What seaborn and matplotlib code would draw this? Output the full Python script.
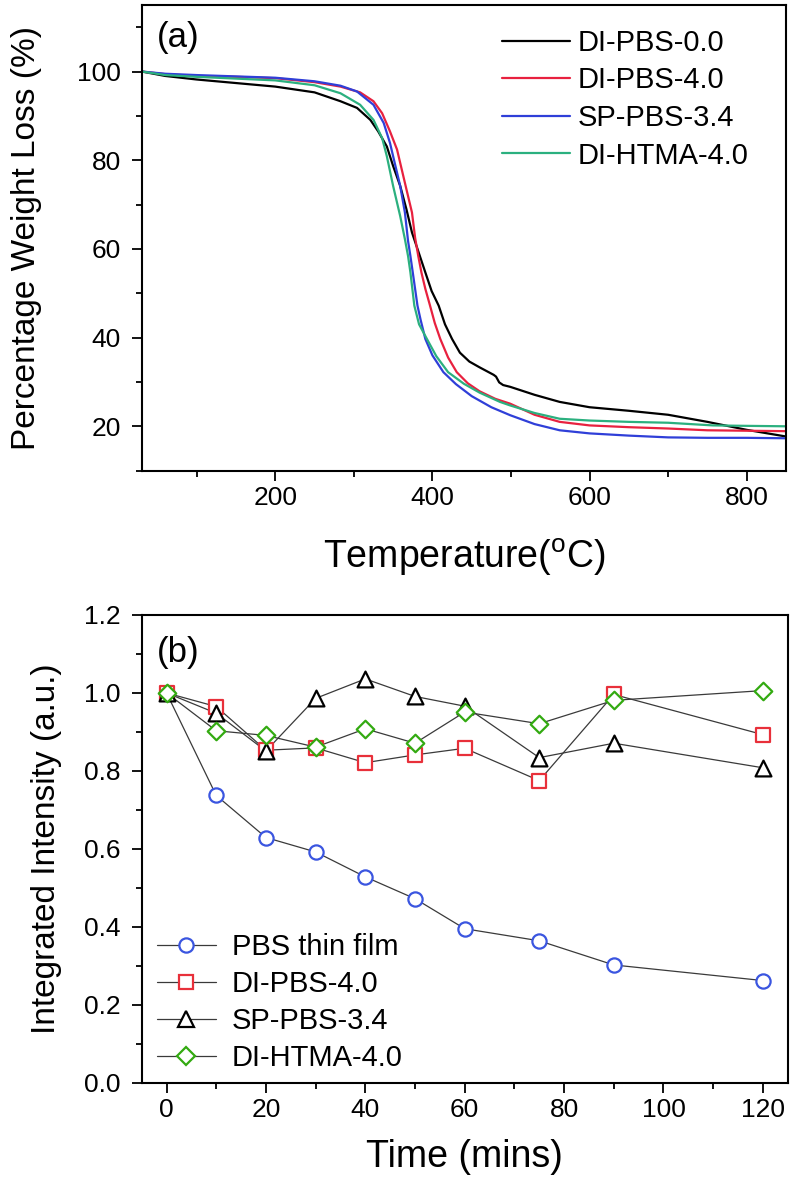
import numpy as np
import pandas as pd
import matplotlib
matplotlib.use('Agg')
import matplotlib.pyplot as plt
from matplotlib.lines import Line2D
from matplotlib.ticker import MultipleLocator, FormatStrFormatter
import seaborn as sns

# ---- (a) TGA curves ----
t_black = [30, 60, 100, 150, 200, 250, 283, 304, 321, 331, 342, 350, 359, 367, 374, 381, 391, 399, 408,
           416, 425, 435, 447, 460, 478, 481, 485, 490, 499, 530, 562, 600, 650, 700, 750, 800, 850]
w_black = [100, 99.0, 98.2, 97.4, 96.6, 95.3, 93.3, 91.8, 89.1, 86.5, 83.1, 78.7, 74.2, 68.9, 63.7, 60.0, 54.7, 50.5, 47.2,
           43.0, 39.7, 36.6, 34.6, 33.3, 31.6, 31.2, 29.9, 29.3, 28.9, 27.1, 25.5, 24.3, 23.5, 22.6, 21.0, 19.2, 17.7]

t_red = [30, 60, 100, 150, 200, 250, 283, 308, 325, 336, 346, 355, 361, 367, 374, 378, 382, 386, 391, 397,
         403, 410, 420, 431, 445, 460, 480, 499, 530, 562, 600, 650, 700, 750, 800, 850]
w_red = [100, 99.4, 99.0, 98.8, 98.5, 97.6, 96.6, 95.3, 93.3, 90.6, 86.5, 82.4, 77.9, 73.4, 68.2, 62.5, 58.4, 54.7, 51.0, 47.2,
         43.3, 39.7, 35.5, 32.2, 29.7, 27.9, 26.2, 25.1, 22.6, 21.0, 20.2, 19.8, 19.5, 19.1, 19.0, 18.9]

t_blue = [30, 60, 100, 150, 200, 250, 283, 304, 325, 338, 346, 352, 359, 365, 369, 372, 375, 381, 385, 391,
          400, 414, 430, 450, 475, 499, 530, 562, 600, 650, 700, 750, 800, 850]
w_blue = [100, 99.5, 99.2, 98.9, 98.6, 97.8, 96.8, 95.5, 92.5, 88.4, 83.9, 79.4, 74.2, 68.2, 61.8, 58.4, 54.7, 47.2, 44.0, 39.7,
          36.0, 32.2, 29.5, 26.8, 24.3, 22.5, 20.5, 19.1, 18.4, 17.9, 17.5, 17.4, 17.4, 17.3]

t_green = [30, 60, 100, 150, 200, 250, 283, 308, 325, 336, 342, 350, 359, 365, 369, 372, 377, 383, 393,
           405, 420, 440, 460, 486, 499, 530, 562, 600, 650, 700, 757, 800, 850]
w_green = [100, 99.2, 98.8, 98.4, 98.0, 96.9, 95.1, 92.5, 89.1, 85.0, 80.9, 74.2, 67.4, 62.2, 58.4, 54.7, 47.2, 43.0, 39.7,
           35.8, 32.2, 29.6, 27.6, 25.5, 24.7, 23.0, 21.7, 21.3, 21.0, 20.8, 20.2, 20.1, 20.0]

tga_names = ['DI-PBS-0.0', 'DI-PBS-4.0', 'SP-PBS-3.4', 'DI-HTMA-4.0']
tga_colors = ['#000000', '#e8213f', '#2f3fd8', '#2bb07f']

# ---- (b) integrated intensity vs time ----
time_min = [0, 10, 20, 30, 40, 50, 60, 75, 90, 120]
pbs_film = [1.0, 0.737, 0.629, 0.592, 0.528, 0.472, 0.395, 0.364, 0.302, 0.262]
di_pbs = [1.0, 0.965, 0.853, 0.859, 0.821, 0.841, 0.858, 0.775, 0.996, 0.893]
sp_pbs = [1.0, 0.948, 0.851, 0.986, 1.036, 0.991, 0.966, 0.834, 0.871, 0.808]
di_htma = [1.0, 0.903, 0.891, 0.861, 0.908, 0.871, 0.951, 0.921, 0.981, 1.006]

int_names = ['PBS thin film', 'DI-PBS-4.0', 'SP-PBS-3.4', 'DI-HTMA-4.0']
int_colors = ['#3a55e0', '#e8303a', '#000000', '#33aa11']
int_markers = ['o', 's', '^', 'D']
int_sizes = [105, 95, 130, 80]

sns.set_theme(style='ticks')
plt.rcParams['font.family'] = ['Liberation Sans', 'DejaVu Sans']
plt.rcParams['axes.linewidth'] = 1.5
plt.rcParams['xtick.color'] = 'black'
plt.rcParams['ytick.color'] = 'black'
plt.rcParams['xtick.labelcolor'] = 'black'
plt.rcParams['ytick.labelcolor'] = 'black'
plt.rcParams['axes.edgecolor'] = 'black'
plt.rcParams['axes.labelcolor'] = 'black'
plt.rcParams['text.color'] = 'black'

fig = plt.figure(figsize=(7.92, 11.9), dpi=100)
ax1 = fig.add_axes([0.1789, 0.6045, 0.8135, 0.3913])
ax2 = fig.add_axes([0.1789, 0.0902, 0.8157, 0.393])

# top panel
frames = []
for name, t, w in zip(tga_names, [t_black, t_red, t_blue, t_green], [w_black, w_red, w_blue, w_green]):
    frames.append(pd.DataFrame({'T': t, 'W': w, 'sample': name}))
tga = pd.concat(frames, ignore_index=True)
sns.lineplot(data=tga, x='T', y='W', hue='sample', hue_order=tga_names,
             palette=tga_colors, estimator=None, sort=False, lw=1.6, ax=ax1, legend=False)
ax1.set_xlim(30, 850)
ax1.set_ylim(10, 115)
ax1.xaxis.set_major_locator(MultipleLocator(200))
ax1.xaxis.set_minor_locator(MultipleLocator(100))
ax1.set_yticks([20, 40, 60, 80, 100])
ax1.yaxis.set_minor_locator(MultipleLocator(10))
ax1.set_xlabel('Temperature($\\mathregular{^oC}$)', fontsize=27, labelpad=19)
ax1.set_ylabel('Percentage Weight Loss (%)', fontsize=24, labelpad=25)
ax1.text(0.024, 0.966, '(a)', transform=ax1.transAxes, fontsize=25, va='top', ha='left')
h1 = [Line2D([], [], color=c, lw=1.6) for c in tga_colors]
ax1.legend(h1, tga_names, loc='upper left', bbox_to_anchor=(0.559, 0.949), frameon=False,
           fontsize=21, handlelength=2.33, handletextpad=0.27, labelspacing=0.33,
           borderpad=0, borderaxespad=0)

# bottom panel
frames = []
for name, v in zip(int_names, [pbs_film, di_pbs, sp_pbs, di_htma]):
    frames.append(pd.DataFrame({'time': time_min, 'I': v, 'sample': name}))
inten = pd.concat(frames, ignore_index=True)
sns.lineplot(data=inten, x='time', y='I', units='sample', estimator=None,
             color='#3a3a3a', lw=0.9, ax=ax2)
for name, c, m, s in zip(int_names, int_colors, int_markers, int_sizes):
    sub = inten[inten['sample'] == name]
    sns.scatterplot(data=sub, x='time', y='I', marker=m, s=s, color='white',
                    edgecolor=c, linewidth=1.6, zorder=3, ax=ax2)
ax2.set_xlim(-5, 125)
ax2.set_ylim(0, 1.2)
ax2.xaxis.set_major_locator(MultipleLocator(20))
ax2.xaxis.set_minor_locator(MultipleLocator(10))
ax2.yaxis.set_major_locator(MultipleLocator(0.2))
ax2.yaxis.set_minor_locator(MultipleLocator(0.1))
ax2.yaxis.set_major_formatter(FormatStrFormatter('%.1f'))
ax2.set_xlabel('Time (mins)', fontsize=27, labelpad=12)
ax2.set_ylabel('Integrated Intensity (a.u.)', fontsize=24, labelpad=16)
ax2.text(0.024, 0.955, '(b)', transform=ax2.transAxes, fontsize=25, va='top', ha='left')
h2 = [Line2D([], [], color='#3a3a3a', lw=0.9, marker=m, markersize=np.sqrt(s),
             markerfacecolor='white', markeredgecolor=c, markeredgewidth=1.6)
      for c, m, s in zip(int_colors, int_markers, int_sizes)]
ax2.legend(h2, int_names, loc='upper left', bbox_to_anchor=(0.024, 0.319), frameon=False,
           fontsize=21, handlelength=2.0, handletextpad=0.55, labelspacing=0.3,
           borderpad=0, borderaxespad=0)

for ax in (ax1, ax2):
    ax.tick_params(which='major', direction='out', length=7, width=1.3, labelsize=19)
    ax.tick_params(which='minor', direction='out', length=4, width=1.3)
    ax.tick_params(axis='x', which='major', pad=4)
    ax.tick_params(axis='y', which='major', pad=8)
    for sp in ax.spines.values():
        sp.set_visible(True)
        sp.set_linewidth(1.5)

fig.savefig('out.png', dpi=100)
